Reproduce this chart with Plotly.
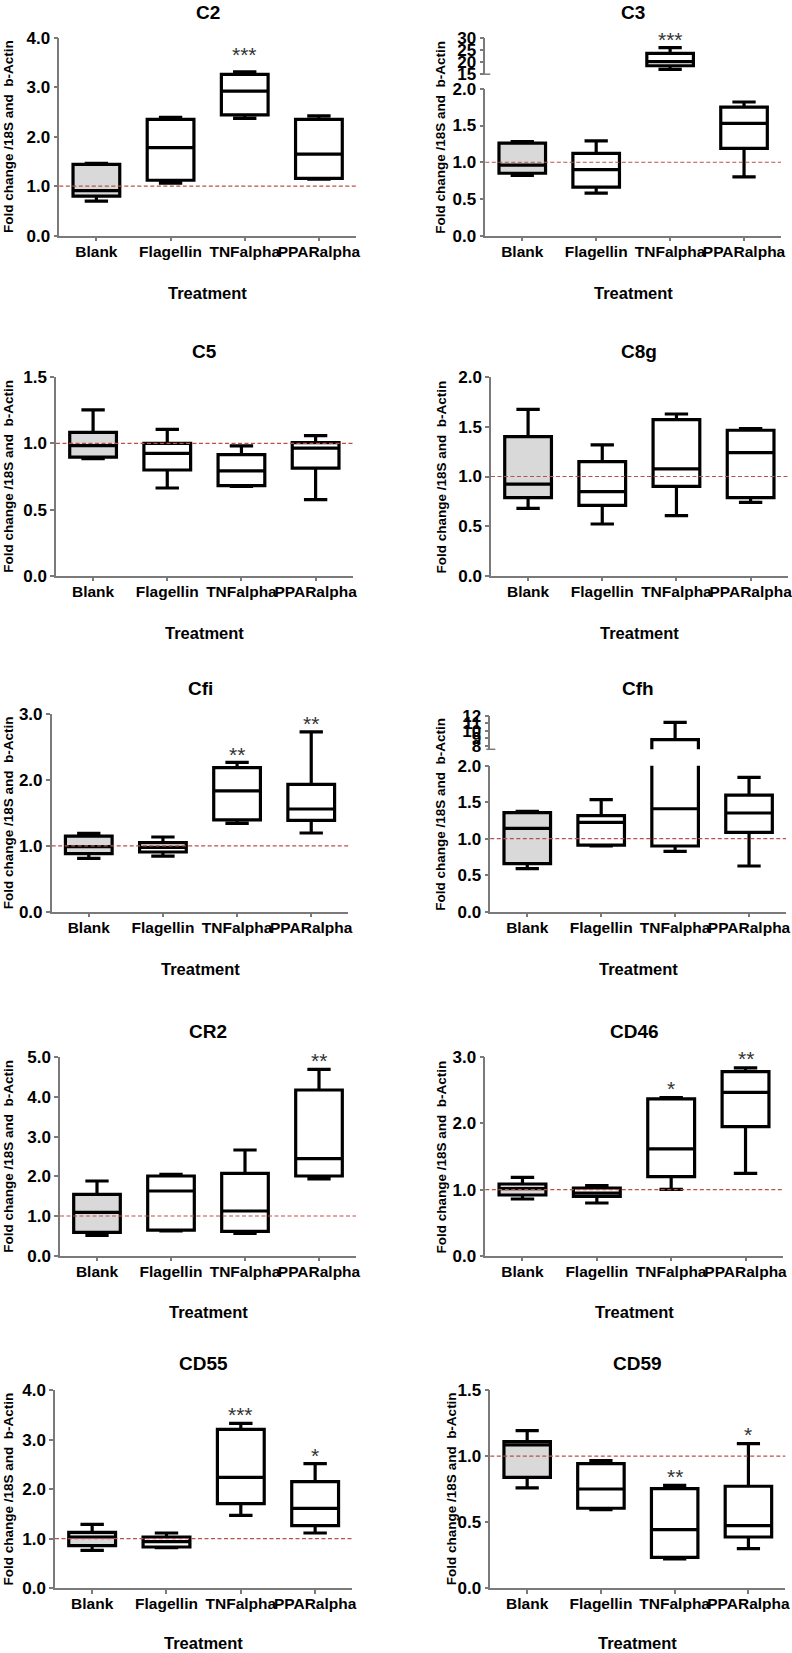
import plotly.graph_objects as go

W, H = 792, 1653
categories = ["Blank", "Flagellin", "TNFalpha", "PPARalpha"]
y_title = "Fold change /18S and  b-Actin"
x_title = "Treatment"

# ---- data: lower whisker, Q1, median, Q3, upper whisker (per category) ----
c2_low = [0.70, 1.06, 2.37, 1.14]
c2_q1 = [0.80, 1.12, 2.44, 1.16]
c2_med = [0.91, 1.78, 2.92, 1.65]
c2_q3 = [1.44, 2.35, 3.26, 2.35]
c2_high = [1.46, 2.39, 3.31, 2.42]
c2_stars = ["", "", "***", ""]
c2_star_y = [None, None, 3.76, None]
c2_ticks = [0, 1, 2, 3, 4]

c3_low = [0.82, 0.58, 17.0, 0.80]
c3_q1 = [0.85, 0.66, 18.5, 1.19]
c3_med = [0.96, 0.90, 20.2, 1.53]
c3_q3 = [1.26, 1.12, 23.6, 1.75]
c3_high = [1.28, 1.29, 26.0, 1.82]
c3_stars = ["", "", "***", ""]
c3_star_y = [None, None, 31.5, None]
c3_ticks = [0, 0.5, 1.0, 1.5, 2.0]
c3_ticks_upper = [15, 20, 25, 30]

c5_low = [0.885, 0.663, 0.675, 0.575]
c5_q1 = [0.897, 0.799, 0.681, 0.814]
c5_med = [0.983, 0.925, 0.792, 0.965]
c5_q3 = [1.084, 1.000, 0.915, 1.006]
c5_high = [1.253, 1.107, 0.981, 1.059]
c5_stars = ["", "", "", ""]
c5_star_y = [None, None, None, None]
c5_ticks = [0, 0.5, 1.0, 1.5]

c8g_low = [0.679, 0.521, 0.605, 0.739]
c8g_q1 = [0.787, 0.709, 0.901, 0.787]
c8g_med = [0.924, 0.847, 1.076, 1.240]
c8g_q3 = [1.402, 1.150, 1.573, 1.466]
c8g_high = [1.677, 1.318, 1.630, 1.482]
c8g_stars = ["", "", "", ""]
c8g_star_y = [None, None, None, None]
c8g_ticks = [0, 0.5, 1.0, 1.5, 2.0]

cfi_low = [0.811, 0.846, 1.343, 1.196]
cfi_q1 = [0.882, 0.907, 1.394, 1.389]
cfi_med = [0.988, 0.978, 1.835, 1.561]
cfi_q3 = [1.150, 1.049, 2.190, 1.936]
cfi_high = [1.191, 1.135, 2.270, 2.732]
cfi_stars = ["", "", "**", "**"]
cfi_star_y = [None, None, 2.46, 2.93]
cfi_ticks = [0, 1, 2, 3]

cfh_low = [0.589, 0.900, 0.826, 0.626]
cfh_q1 = [0.658, 0.913, 0.900, 1.087]
cfh_med = [1.142, 1.224, 1.410, 1.352]
cfh_q3 = [1.356, 1.315, 8.81, 1.598]
cfh_high = [1.374, 1.534, 11.15, 1.840]
cfh_stars = ["", "", "", ""]
cfh_star_y = [None, None, None, None]
cfh_ticks = [0, 0.5, 1.0, 1.5, 2.0]
cfh_ticks_upper = [8, 9, 10, 11, 12]

cr2_low = [0.513, 0.622, 0.563, 1.933]
cr2_q1 = [0.588, 0.647, 0.613, 2.008]
cr2_med = [1.092, 1.630, 1.126, 2.445]
cr2_q3 = [1.546, 2.008, 2.076, 4.176]
cr2_high = [1.882, 2.050, 2.664, 4.697]
cr2_stars = ["", "", "", "**"]
cr2_star_y = [None, None, None, 5.04]
cr2_ticks = [0, 1, 2, 3, 4, 5]

cd46_low = [0.857, 0.797, 1.004, 1.245]
cd46_q1 = [0.918, 0.898, 1.195, 1.952]
cd46_med = [1.014, 0.948, 1.614, 2.471]
cd46_q3 = [1.084, 1.024, 2.370, 2.784]
cd46_high = [1.185, 1.059, 2.390, 2.839]
cd46_stars = ["", "", "*", "**"]
cd46_star_y = [None, None, 2.60, 3.05]
cd46_ticks = [0, 1, 2, 3]

cd55_low = [0.762, 0.816, 1.470, 1.113]
cd55_q1 = [0.857, 0.830, 1.707, 1.261]
cd55_med = [1.032, 0.938, 2.240, 1.612]
cd55_q3 = [1.126, 1.032, 3.211, 2.152]
cd55_high = [1.288, 1.113, 3.332, 2.516]
cd55_stars = ["", "", "***", "*"]
cd55_star_y = [None, None, 3.61, 2.79]
cd55_ticks = [0, 1, 2, 3, 4]

cd59_low = [0.759, 0.594, 0.220, 0.299]
cd59_q1 = [0.840, 0.605, 0.233, 0.387]
cd59_med = [1.085, 0.751, 0.443, 0.473]
cd59_q3 = [1.110, 0.944, 0.754, 0.772]
cd59_high = [1.194, 0.966, 0.779, 1.095]
cd59_stars = ["", "", "**", "*"]
cd59_star_y = [None, None, 0.885, 1.20]
cd59_ticks = [0, 0.5, 1.0, 1.5]

reference_level = 1.0

# ---- layout geometry (pixels) ----
panels = [
    dict(title="C2", d=(c2_low, c2_q1, c2_med, c2_q3, c2_high), stars=c2_stars, sy=c2_star_y,
         ticks=c2_ticks, L=59.3, R=356, T=37.7, B=235.7, ty=10, xt=293, yt=8.3),
    dict(title="C3", d=(c3_low, c3_q1, c3_med, c3_q3, c3_high), stars=c3_stars, sy=c3_star_y,
         ticks=c3_ticks, L=485.3, R=781, T=88.8, B=235.7, ty=10, xt=293, yt=441,
         upper=dict(T=38.0, B=74.2, ticks=c3_ticks_upper, rng=[15, 30])),
    dict(title="C5", d=(c5_low, c5_q1, c5_med, c5_q3, c5_high), stars=c5_stars, sy=c5_star_y,
         ticks=c5_ticks, L=56, R=352.7, T=377.3, B=575.7, ty=349.3, xt=633.3, yt=8.3),
    dict(title="C8g", d=(c8g_low, c8g_q1, c8g_med, c8g_q3, c8g_high), stars=c8g_stars, sy=c8g_star_y,
         ticks=c8g_ticks, L=491, R=787.7, T=377.3, B=575.7, ty=349.3, xt=633.3, yt=441),
    dict(title="Cfi", d=(cfi_low, cfi_q1, cfi_med, cfi_q3, cfi_high), stars=cfi_stars, sy=cfi_star_y,
         ticks=cfi_ticks, L=51.7, R=348.3, T=714.3, B=911.7, ty=685.7, xt=969, yt=8.3),
    dict(title="Cfh", d=(cfh_low, cfh_q1, cfh_med, cfh_q3, cfh_high), stars=cfh_stars, sy=cfh_star_y,
         ticks=cfh_ticks, L=490.3, R=786, T=765.7, B=911.7, ty=685.7, xt=969, yt=441,
         upper=dict(T=716.0, B=749.3, ticks=cfh_ticks_upper, rng=[7.5, 12])),
    dict(title="CR2", d=(cr2_low, cr2_q1, cr2_med, cr2_q3, cr2_high), stars=cr2_stars, sy=cr2_star_y,
         ticks=cr2_ticks, L=60, R=356, T=1057.3, B=1255.7, ty=1029, xt=1312.3, yt=8.3),
    dict(title="CD46", d=(cd46_low, cd46_q1, cd46_med, cd46_q3, cd46_high), stars=cd46_stars, sy=cd46_star_y,
         ticks=cd46_ticks, L=485.3, R=782.7, T=1057.3, B=1255.7, ty=1029, xt=1312.3, yt=441),
    dict(title="CD55", d=(cd55_low, cd55_q1, cd55_med, cd55_q3, cd55_high), stars=cd55_stars, sy=cd55_star_y,
         ticks=cd55_ticks, L=55, R=352.3, T=1390.3, B=1588, ty=1361.3, xt=1642.5, yt=8.3),
    dict(title="CD59", d=(cd59_low, cd59_q1, cd59_med, cd59_q3, cd59_high), stars=cd59_stars, sy=cd59_star_y,
         ticks=cd59_ticks, L=490.3, R=785.3, T=1390.3, B=1588, ty=1361.3, xt=1642.5, yt=451),
]

FONT = "Liberation Sans, Arial, sans-serif"
AX = "#7a7a7a"
BLANK_FILL = "#d9d9d9"
REF_COLOR = "#b9504a"


def px(x):
    return x / W


def py(y):
    return 1 - y / H


def ax_id(prefix, k):
    return prefix if k == 1 else f"{prefix}{k}"


def ax_key(prefix, k):
    return f"{prefix}axis" if k == 1 else f"{prefix}axis{k}"


fig = go.Figure()
layout = dict(
    width=W, height=H, margin=dict(l=0, r=0, t=0, b=0, pad=0, autoexpand=False),
    paper_bgcolor="white", plot_bgcolor="white", showlegend=False,
    boxmode="overlay", font=dict(family=FONT, color="black"),
)
annotations = []
shapes = []

axis_common = dict(showline=True, linecolor=AX, linewidth=1.5, ticks="outside", ticklen=4,
                   tickcolor=AX, tickwidth=1.5, showgrid=False, zeroline=False, fixedrange=True,
                   automargin=False)

next_y = len(panels) + 1
for i, p in enumerate(panels):
    k = i + 1
    xa = ax_id("x", k)
    ylow = ax_id("y", k)
    low, q1, med, q3, high = p["d"]
    low_rng = [0, max(p["ticks"])]
    yaxes = [(ylow, k, p["ticks"], low_rng, p["T"], p["B"], ".1f")]
    up = p.get("upper")
    if up:
        yup = ax_id("y", next_y)
        yaxes.append((yup, next_y, up["ticks"], up["rng"], up["T"], up["B"], "d"))
        next_y += 1

    layout[ax_key("x", k)] = dict(
        domain=[px(p["L"]), px(p["R"])], anchor=ylow, type="category",
        categoryorder="array", categoryarray=categories, range=[-0.5, 3.5], tickangle=0,
        ticklabelstandoff=-3,
        tickfont=dict(family=FONT, size=15.5, color="black", weight="bold"), **axis_common)

    for (ya, yk, ticks, rng, top, bot, fmt) in yaxes:
        layout[ax_key("y", yk)] = dict(
            domain=[py(bot), py(top)], anchor=xa, range=rng, tickvals=ticks,
            ticktext=[format(t, fmt) if fmt == ".1f" else str(int(t)) for t in ticks],
            tickfont=dict(family=FONT, size=17, color="black", weight="bold"), **axis_common)
        for idxs, fill in (([0], BLANK_FILL), ([1, 2, 3], "white")):
            fig.add_trace(go.Box(
                x=[categories[j] for j in idxs],
                lowerfence=[low[j] for j in idxs], q1=[q1[j] for j in idxs],
                median=[med[j] for j in idxs], q3=[q3[j] for j in idxs],
                upperfence=[high[j] for j in idxs],
                fillcolor=fill, line=dict(color="black", width=3.2),
                width=0.63, whiskerwidth=0.5, boxpoints=False,
                xaxis=xa, yaxis=ya, showlegend=False, hoverinfo="skip"))

    # reference line at 1.0
    shapes.append(dict(type="line", xref=f"{xa} domain", yref=ylow, x0=0, x1=1,
                       y0=reference_level, y1=reference_level, layer="above",
                       line=dict(color=REF_COLOR, width=1.2, dash="4px,2.5px")))
    if up:
        shapes.append(dict(type="line", xref="paper", yref="paper",
                           x0=px(p["L"] - 4), x1=px(p["L"] + 5), y0=py(up["B"]), y1=py(up["B"]),
                           line=dict(color=AX, width=1.5)))

    cx = (p["L"] + p["R"]) / 2
    annotations.append(dict(text=f"<b>{p['title']}</b>", x=px(cx), y=py(max(p["ty"] - 10, 0)),
                            xref="paper", yref="paper",
                            xanchor="center", yanchor="top", showarrow=False,
                            font=dict(family=FONT, size=19, color="black")))
    annotations.append(dict(text=f"<b>{x_title}</b>", x=px(cx), y=py(p["xt"]), xref="paper", yref="paper",
                            xanchor="center", yanchor="middle", showarrow=False,
                            font=dict(family=FONT, size=16.5, color="black")))
    top_all = up["T"] if up else p["T"]
    annotations.append(dict(text=f"<b>{y_title}</b>", x=px(p["yt"]), y=py((top_all + p["B"]) / 2),
                            xref="paper", yref="paper", textangle=-90,
                            xanchor="center", yanchor="middle", showarrow=False,
                            font=dict(family=FONT, size=13.5, color="black")))
    for j, s in enumerate(p["stars"]):
        if s:
            yv = p["sy"][j]
            if up and yv > low_rng[1]:
                ref_axis, r = yup, up["rng"]
            else:
                ref_axis, r = ylow, low_rng
            annotations.append(dict(text=s, x=categories[j], y=(yv - r[0]) / (r[1] - r[0]),
                                    xref=xa, yref=f"{ref_axis} domain",
                                    xanchor="center", yanchor="middle", yshift=-5, showarrow=False,
                                    font=dict(family=FONT, size=21, color="#333333")))

layout["annotations"] = annotations
layout["shapes"] = shapes
fig.update_layout(**layout)
fig.write_html("out.html", config={"displayModeBar": False},
               post_script="document.body.style.margin='0px';document.body.style.padding='0px';")
